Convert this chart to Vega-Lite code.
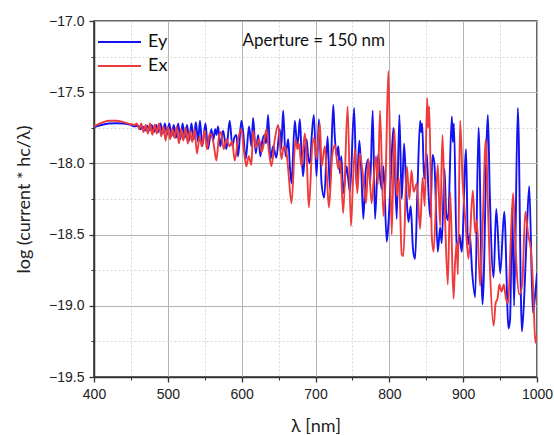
{
"$schema": "https://vega.github.io/schema/vega-lite/v6.json",
"width": 443, "height": 356,
"autosize": {"type": "none"},
"padding": {"left": 94, "top": 21, "right": 17, "bottom": 58},
"background": "white",
"config": {"view": {"stroke": "#333", "strokeWidth": 1.5}},
"datasets": {"curves": [
{"s":"Ey","x":400,"y":-17.745},{"s":"Ey","x":410,"y":-17.73},{"s":"Ey","x":420,"y":-17.72},{"s":"Ey","x":430,"y":-17.718},{"s":"Ey","x":440,"y":-17.72},{"s":"Ey","x":450,"y":-17.73},{"s":"Ey","x":455,"y":-17.74},{"s":"Ey","x":460,"y":-17.735},{"s":"Ey","x":463,"y":-17.76},{"s":"Ey","x":466,"y":-17.74},{"s":"Ey","x":469,"y":-17.77},{"s":"Ey","x":472,"y":-17.735},{"s":"Ey","x":475,"y":-17.77},{"s":"Ey","x":478,"y":-17.73},{"s":"Ey","x":481,"y":-17.78},{"s":"Ey","x":484,"y":-17.73},{"s":"Ey","x":487,"y":-17.78},{"s":"Ey","x":490,"y":-17.72},{"s":"Ey","x":493,"y":-17.79},{"s":"Ey","x":496,"y":-17.72},{"s":"Ey","x":499,"y":-17.80},{"s":"Ey","x":502,"y":-17.72},{"s":"Ey","x":505,"y":-17.81},{"s":"Ey","x":508,"y":-17.73},{"s":"Ey","x":511,"y":-17.82},{"s":"Ey","x":514,"y":-17.72},{"s":"Ey","x":517,"y":-17.83},{"s":"Ey","x":520,"y":-17.72},{"s":"Ey","x":523,"y":-17.82},{"s":"Ey","x":526,"y":-17.73},{"s":"Ey","x":529,"y":-17.84},{"s":"Ey","x":532,"y":-17.72},{"s":"Ey","x":535,"y":-17.83},{"s":"Ey","x":538,"y":-17.71},{"s":"Ey","x":541,"y":-17.85},{"s":"Ey","x":543.5,"y":-17.70},{"s":"Ey","x":546.7,"y":-17.88},{"s":"Ey","x":551,"y":-17.72},{"s":"Ey","x":554.4,"y":-17.90},{"s":"Ey","x":558.9,"y":-17.76},{"s":"Ey","x":561.5,"y":-17.84},{"s":"Ey","x":564,"y":-17.76},{"s":"Ey","x":566,"y":-17.80},{"s":"Ey","x":568,"y":-17.74},{"s":"Ey","x":571.1,"y":-17.88},{"s":"Ey","x":574.8,"y":-17.77},{"s":"Ey","x":577,"y":-17.83},{"s":"Ey","x":579.3,"y":-17.90},{"s":"Ey","x":583.8,"y":-17.70},{"s":"Ey","x":587.4,"y":-17.88},{"s":"Ey","x":590,"y":-17.82},{"s":"Ey","x":592.9,"y":-17.80},{"s":"Ey","x":595.1,"y":-17.95},{"s":"Ey","x":599.6,"y":-17.70},{"s":"Ey","x":602,"y":-17.78},{"s":"Ey","x":605.5,"y":-17.97},{"s":"Ey","x":610,"y":-17.74},{"s":"Ey","x":613.2,"y":-17.88},{"s":"Ey","x":615.5,"y":-17.68},{"s":"Ey","x":619.1,"y":-17.93},{"s":"Ey","x":622.3,"y":-17.80},{"s":"Ey","x":625.4,"y":-17.95},{"s":"Ey","x":628,"y":-17.84},{"s":"Ey","x":631.3,"y":-17.80},{"s":"Ey","x":633,"y":-17.86},{"s":"Ey","x":635.8,"y":-17.66},{"s":"Ey","x":639,"y":-17.97},{"s":"Ey","x":642.6,"y":-17.88},{"s":"Ey","x":647,"y":-17.96},{"s":"Ey","x":651.7,"y":-17.76},{"s":"Ey","x":653.5,"y":-17.90},{"s":"Ey","x":656.2,"y":-17.63},{"s":"Ey","x":659.4,"y":-17.95},{"s":"Ey","x":663,"y":-17.83},{"s":"Ey","x":665.3,"y":-18.02},{"s":"Ey","x":667.5,"y":-18.14},{"s":"Ey","x":672,"y":-17.70},{"s":"Ey","x":674.3,"y":-17.83},{"s":"Ey","x":676,"y":-17.86},{"s":"Ey","x":678.8,"y":-17.69},{"s":"Ey","x":681.1,"y":-17.93},{"s":"Ey","x":683.3,"y":-18.09},{"s":"Ey","x":686,"y":-17.88},{"s":"Ey","x":687.9,"y":-17.83},{"s":"Ey","x":690,"y":-17.95},{"s":"Ey","x":692.4,"y":-18.00},{"s":"Ey","x":695,"y":-17.80},{"s":"Ey","x":697.8,"y":-17.66},{"s":"Ey","x":701.4,"y":-18.09},{"s":"Ey","x":704.6,"y":-17.69},{"s":"Ey","x":708.2,"y":-18.14},{"s":"Ey","x":711.8,"y":-18.24},{"s":"Ey","x":716.4,"y":-17.81},{"s":"Ey","x":719.5,"y":-18.18},{"s":"Ey","x":724,"y":-17.59},{"s":"Ey","x":726,"y":-17.80},{"s":"Ey","x":728.6,"y":-17.95},{"s":"Ey","x":731,"y":-17.88},{"s":"Ey","x":733.1,"y":-18.07},{"s":"Ey","x":735,"y":-17.95},{"s":"Ey","x":737.6,"y":-18.21},{"s":"Ey","x":742.1,"y":-18.02},{"s":"Ey","x":744.5,"y":-18.12},{"s":"Ey","x":746.7,"y":-18.20},{"s":"Ey","x":752.3,"y":-17.61},{"s":"Ey","x":755.7,"y":-18.17},{"s":"Ey","x":759.4,"y":-17.84},{"s":"Ey","x":762,"y":-18.05},{"s":"Ey","x":764.8,"y":-18.39},{"s":"Ey","x":768,"y":-18.05},{"s":"Ey","x":771.6,"y":-17.97},{"s":"Ey","x":774,"y":-18.15},{"s":"Ey","x":777.5,"y":-17.63},{"s":"Ey","x":780.6,"y":-18.39},{"s":"Ey","x":785.1,"y":-17.93},{"s":"Ey","x":787.5,"y":-18.10},{"s":"Ey","x":789.7,"y":-18.18},{"s":"Ey","x":792,"y":-18.02},{"s":"Ey","x":796.5,"y":-18.55},{"s":"Ey","x":798.7,"y":-18.43},{"s":"Ey","x":802,"y":-18.10},{"s":"Ey","x":805.5,"y":-17.75},{"s":"Ey","x":810,"y":-18.39},{"s":"Ey","x":813.6,"y":-17.66},{"s":"Ey","x":816.8,"y":-18.25},{"s":"Ey","x":820,"y":-17.86},{"s":"Ey","x":823,"y":-18.20},{"s":"Ey","x":825.9,"y":-18.41},{"s":"Ey","x":829,"y":-18.30},{"s":"Ey","x":832,"y":-18.60},{"s":"Ey","x":834.9,"y":-18.67},{"s":"Ey","x":838,"y":-18.20},{"s":"Ey","x":841.7,"y":-17.70},{"s":"Ey","x":843,"y":-17.78},{"s":"Ey","x":844.5,"y":-17.72},{"s":"Ey","x":847.1,"y":-18.11},{"s":"Ey","x":850.7,"y":-17.93},{"s":"Ey","x":853,"y":-18.20},{"s":"Ey","x":855.5,"y":-18.38},{"s":"Ey","x":858.5,"y":-17.94},{"s":"Ey","x":861,"y":-18.00},{"s":"Ey","x":865.6,"y":-18.62},{"s":"Ey","x":868.8,"y":-18.45},{"s":"Ey","x":871,"y":-18.56},{"s":"Ey","x":874.7,"y":-18.04},{"s":"Ey","x":877,"y":-18.35},{"s":"Ey","x":879.5,"y":-18.40},{"s":"Ey","x":884.6,"y":-17.67},{"s":"Ey","x":886,"y":-17.85},{"s":"Ey","x":887.5,"y":-17.72},{"s":"Ey","x":891.4,"y":-18.65},{"s":"Ey","x":895,"y":-18.50},{"s":"Ey","x":898,"y":-18.62},{"s":"Ey","x":904,"y":-17.90},{"s":"Ey","x":906.4,"y":-18.57},{"s":"Ey","x":909,"y":-18.50},{"s":"Ey","x":912,"y":-18.75},{"s":"Ey","x":916.3,"y":-18.94},{"s":"Ey","x":920.8,"y":-17.75},{"s":"Ey","x":926.2,"y":-18.99},{"s":"Ey","x":933.5,"y":-17.66},{"s":"Ey","x":936,"y":-18.20},{"s":"Ey","x":941.2,"y":-18.80},{"s":"Ey","x":944.8,"y":-18.32},{"s":"Ey","x":950.2,"y":-18.77},{"s":"Ey","x":955.6,"y":-18.34},{"s":"Ey","x":961.5,"y":-19.16},{"s":"Ey","x":963.5,"y":-19.10},{"s":"Ey","x":966.5,"y":-18.31},{"s":"Ey","x":969,"y":-19.00},{"s":"Ey","x":974,"y":-17.61},{"s":"Ey","x":979.6,"y":-19.18},{"s":"Ey","x":983,"y":-18.90},{"s":"Ey","x":986,"y":-18.50},{"s":"Ey","x":989.5,"y":-18.16},{"s":"Ey","x":994.5,"y":-19.05},{"s":"Ey","x":997,"y":-18.95},{"s":"Ey","x":1000,"y":-18.77},
{"s":"Ex","x":400,"y":-17.74},{"s":"Ex","x":410,"y":-17.715},{"s":"Ex","x":420,"y":-17.70},{"s":"Ex","x":430,"y":-17.70},{"s":"Ex","x":440,"y":-17.71},{"s":"Ex","x":450,"y":-17.725},{"s":"Ex","x":455,"y":-17.73},{"s":"Ex","x":458,"y":-17.72},{"s":"Ex","x":461,"y":-17.76},{"s":"Ex","x":464,"y":-17.72},{"s":"Ex","x":467,"y":-17.78},{"s":"Ex","x":470,"y":-17.73},{"s":"Ex","x":473,"y":-17.79},{"s":"Ex","x":476,"y":-17.72},{"s":"Ex","x":479,"y":-17.80},{"s":"Ex","x":482,"y":-17.73},{"s":"Ex","x":485,"y":-17.79},{"s":"Ex","x":488,"y":-17.72},{"s":"Ex","x":491,"y":-17.81},{"s":"Ex","x":494,"y":-17.74},{"s":"Ex","x":497,"y":-17.84},{"s":"Ex","x":500,"y":-17.74},{"s":"Ex","x":503,"y":-17.83},{"s":"Ex","x":506,"y":-17.76},{"s":"Ex","x":509,"y":-17.82},{"s":"Ex","x":512,"y":-17.74},{"s":"Ex","x":515,"y":-17.86},{"s":"Ex","x":518,"y":-17.76},{"s":"Ex","x":521,"y":-17.84},{"s":"Ex","x":524,"y":-17.75},{"s":"Ex","x":527,"y":-17.86},{"s":"Ex","x":530,"y":-17.77},{"s":"Ex","x":533,"y":-17.85},{"s":"Ex","x":536,"y":-17.76},{"s":"Ex","x":539.5,"y":-17.93},{"s":"Ex","x":543,"y":-17.81},{"s":"Ex","x":546,"y":-17.88},{"s":"Ex","x":549.9,"y":-17.77},{"s":"Ex","x":553,"y":-17.90},{"s":"Ex","x":556.7,"y":-17.79},{"s":"Ex","x":559,"y":-17.80},{"s":"Ex","x":562,"y":-17.86},{"s":"Ex","x":565.7,"y":-17.98},{"s":"Ex","x":569.3,"y":-17.81},{"s":"Ex","x":572,"y":-17.78},{"s":"Ex","x":575.7,"y":-17.90},{"s":"Ex","x":579.3,"y":-17.83},{"s":"Ex","x":583.8,"y":-17.88},{"s":"Ex","x":587,"y":-17.84},{"s":"Ex","x":590.6,"y":-17.98},{"s":"Ex","x":595.1,"y":-17.83},{"s":"Ex","x":599.6,"y":-17.76},{"s":"Ex","x":602.8,"y":-17.90},{"s":"Ex","x":606.4,"y":-18.02},{"s":"Ex","x":609.5,"y":-17.95},{"s":"Ex","x":613.2,"y":-18.01},{"s":"Ex","x":615.5,"y":-17.77},{"s":"Ex","x":619.1,"y":-17.89},{"s":"Ex","x":623.6,"y":-17.83},{"s":"Ex","x":627,"y":-17.92},{"s":"Ex","x":630,"y":-17.86},{"s":"Ex","x":633.5,"y":-17.76},{"s":"Ex","x":637,"y":-17.92},{"s":"Ex","x":640.3,"y":-18.02},{"s":"Ex","x":644.9,"y":-17.83},{"s":"Ex","x":649.4,"y":-17.73},{"s":"Ex","x":653.9,"y":-17.97},{"s":"Ex","x":657,"y":-17.88},{"s":"Ex","x":660,"y":-17.90},{"s":"Ex","x":663,"y":-18.04},{"s":"Ex","x":667.5,"y":-18.28},{"s":"Ex","x":673,"y":-17.83},{"s":"Ex","x":675.5,"y":-17.90},{"s":"Ex","x":677.5,"y":-17.86},{"s":"Ex","x":681,"y":-18.02},{"s":"Ex","x":685.6,"y":-17.79},{"s":"Ex","x":688,"y":-17.95},{"s":"Ex","x":691,"y":-18.31},{"s":"Ex","x":695.6,"y":-17.88},{"s":"Ex","x":698.3,"y":-17.82},{"s":"Ex","x":701.4,"y":-17.97},{"s":"Ex","x":706,"y":-17.72},{"s":"Ex","x":708.2,"y":-18.02},{"s":"Ex","x":712.7,"y":-17.88},{"s":"Ex","x":715,"y":-18.05},{"s":"Ex","x":718.2,"y":-18.31},{"s":"Ex","x":722.7,"y":-17.94},{"s":"Ex","x":726.3,"y":-17.87},{"s":"Ex","x":730.8,"y":-18.04},{"s":"Ex","x":733.5,"y":-17.98},{"s":"Ex","x":737.6,"y":-18.35},{"s":"Ex","x":743.5,"y":-17.60},{"s":"Ex","x":748,"y":-18.44},{"s":"Ex","x":751,"y":-18.10},{"s":"Ex","x":753.5,"y":-17.90},{"s":"Ex","x":756.6,"y":-18.21},{"s":"Ex","x":760,"y":-17.93},{"s":"Ex","x":764.8,"y":-18.11},{"s":"Ex","x":768.4,"y":-18.28},{"s":"Ex","x":771.6,"y":-17.97},{"s":"Ex","x":776,"y":-18.28},{"s":"Ex","x":779,"y":-18.10},{"s":"Ex","x":782,"y":-17.95},{"s":"Ex","x":784.5,"y":-18.15},{"s":"Ex","x":787.4,"y":-17.63},{"s":"Ex","x":792,"y":-18.37},{"s":"Ex","x":795,"y":-18.10},{"s":"Ex","x":798.7,"y":-17.35},{"s":"Ex","x":803.2,"y":-18.50},{"s":"Ex","x":806.9,"y":-17.76},{"s":"Ex","x":810,"y":-18.23},{"s":"Ex","x":813,"y":-18.10},{"s":"Ex","x":816.8,"y":-18.64},{"s":"Ex","x":819,"y":-18.65},{"s":"Ex","x":823.6,"y":-18.02},{"s":"Ex","x":827.2,"y":-18.25},{"s":"Ex","x":830,"y":-18.05},{"s":"Ex","x":833,"y":-18.20},{"s":"Ex","x":837.2,"y":-18.14},{"s":"Ex","x":841.7,"y":-18.46},{"s":"Ex","x":845,"y":-18.10},{"s":"Ex","x":848,"y":-18.30},{"s":"Ex","x":851.1,"y":-17.54},{"s":"Ex","x":852.5,"y":-17.75},{"s":"Ex","x":854,"y":-17.60},{"s":"Ex","x":857.5,"y":-18.51},{"s":"Ex","x":860,"y":-18.62},{"s":"Ex","x":865.6,"y":-18.01},{"s":"Ex","x":868.8,"y":-18.44},{"s":"Ex","x":871.9,"y":-17.80},{"s":"Ex","x":875,"y":-18.30},{"s":"Ex","x":879.2,"y":-18.85},{"s":"Ex","x":882.4,"y":-18.20},{"s":"Ex","x":886.9,"y":-18.95},{"s":"Ex","x":889,"y":-18.70},{"s":"Ex","x":891.4,"y":-18.56},{"s":"Ex","x":892.8,"y":-18.78},{"s":"Ex","x":895.9,"y":-17.70},{"s":"Ex","x":899,"y":-18.10},{"s":"Ex","x":903,"y":-18.40},{"s":"Ex","x":907.2,"y":-18.67},{"s":"Ex","x":913.1,"y":-18.19},{"s":"Ex","x":916.3,"y":-18.49},{"s":"Ex","x":918.5,"y":-18.40},{"s":"Ex","x":923,"y":-18.86},{"s":"Ex","x":926,"y":-18.50},{"s":"Ex","x":930.8,"y":-17.83},{"s":"Ex","x":933,"y":-18.20},{"s":"Ex","x":936,"y":-18.70},{"s":"Ex","x":941.2,"y":-19.14},{"s":"Ex","x":944,"y":-18.98},{"s":"Ex","x":946.5,"y":-18.95},{"s":"Ex","x":949,"y":-18.85},{"s":"Ex","x":952,"y":-18.90},{"s":"Ex","x":955,"y":-18.85},{"s":"Ex","x":958,"y":-18.95},{"s":"Ex","x":961,"y":-18.98},{"s":"Ex","x":964,"y":-18.60},{"s":"Ex","x":967.7,"y":-18.21},{"s":"Ex","x":970,"y":-18.47},{"s":"Ex","x":972,"y":-18.70},{"s":"Ex","x":976,"y":-18.92},{"s":"Ex","x":980,"y":-18.85},{"s":"Ex","x":984.2,"y":-18.34},{"s":"Ex","x":988,"y":-18.50},{"s":"Ex","x":991.6,"y":-18.60},{"s":"Ex","x":995,"y":-18.90},{"s":"Ex","x":997.7,"y":-19.26},{"s":"Ex","x":1000,"y":-19.20}
],
"note": [{"label": "Aperture = 150 nm"}]},
"resolve": {"axis": {"x": "independent", "y": "independent"}},
"layer": [
{
"data": {"name": "curves"},
"transform": [{"filter": "datum.s === 'Ey'"}],
"mark": {"type": "line", "strokeWidth": 1.9, "clip": true, "interpolate": "monotone"},
"encoding": {
"x": {"field": "x", "type": "quantitative", "scale": {"domain": [400, 1000], "nice": false, "zero": false},
"axis": {"values": [400,500,600,700,800,900,1000], "format": "d", "labelFlush": false, "grid": true, "gridColor": "#b3b3b3", "gridWidth": 1, "tickSize": 5, "tickColor": "#333", "tickWidth": 1.3, "domainColor": "#333", "domainWidth": 1.5, "labelFont": "Liberation Sans", "labelFontSize": 14, "labelColor": "#222", "labelPadding": 5, "title": "λ [nm]", "titleFont": "Lato", "titleFontSize": 18, "titleFontWeight": "normal", "titleColor": "#222", "titlePadding": 16}},
"y": {"field": "y", "type": "quantitative", "scale": {"domain": [-19.5, -17.0], "nice": false, "zero": false},
"axis": {"values": [-19.5,-19.0,-18.5,-18.0,-17.5,-17.0], "format": ".1f", "labelFlush": false, "grid": true, "gridColor": "#b3b3b3", "gridWidth": 1, "tickSize": 5, "tickColor": "#333", "tickWidth": 1.3, "domainColor": "#333", "domainWidth": 1.5, "labelFont": "Liberation Sans", "labelFontSize": 14, "labelColor": "#222", "labelPadding": 5, "title": "log (current * hc/λ)", "titleFont": "Lato", "titleFontSize": 18, "titleFontWeight": "normal", "titleColor": "#222", "titlePadding": 15}},
"color": {"field": "s", "type": "nominal", "scale": {"domain": ["Ey", "Ex"], "range": ["#1212f2", "#ee3b3b"]},
"legend": {"orient": "none", "legendX": 14.5, "legendY": 10, "title": null, "symbolType": "M-2.15,0H2.15", "symbolSize": 400, "symbolStrokeWidth": 2, "symbolFillColor": "transparent", "labelFont": "Lato", "labelFontSize": 18, "labelColor": "#111", "labelOffset": 17.5, "rowPadding": 4, "padding": 0}}
}
},
{
"data": {"name": "curves"},
"transform": [{"filter": "datum.s === 'Ex'"}],
"mark": {"type": "line", "strokeWidth": 1.9, "clip": true, "interpolate": "monotone"},
"encoding": {
"x": {"field": "x", "type": "quantitative", "axis": {"orient": "bottom", "values": [450,550,650,750,850,950], "grid": true, "gridColor": "#d6d6d6", "gridDash": [2, 2], "tickSize": 3, "tickColor": "#333", "labels": false, "domain": false, "title": null}},
"y": {"field": "y", "type": "quantitative", "axis": {"orient": "left", "values": [-19.25,-18.75,-18.25,-17.75,-17.25], "grid": true, "gridColor": "#d6d6d6", "gridDash": [2, 2], "tickSize": 3, "tickColor": "#333", "labels": false, "domain": false, "title": null}},
"color": {"field": "s", "type": "nominal"}
}
},
{
"data": {"name": "note"},
"mark": {"type": "text", "align": "left", "baseline": "middle", "font": "Lato", "fontSize": 17, "color": "#111"},
"encoding": {
"x": {"datum": 601, "type": "quantitative", "axis": null},
"y": {"datum": -17.14, "type": "quantitative", "axis": null},
"text": {"field": "label"}
}
}
]
}
